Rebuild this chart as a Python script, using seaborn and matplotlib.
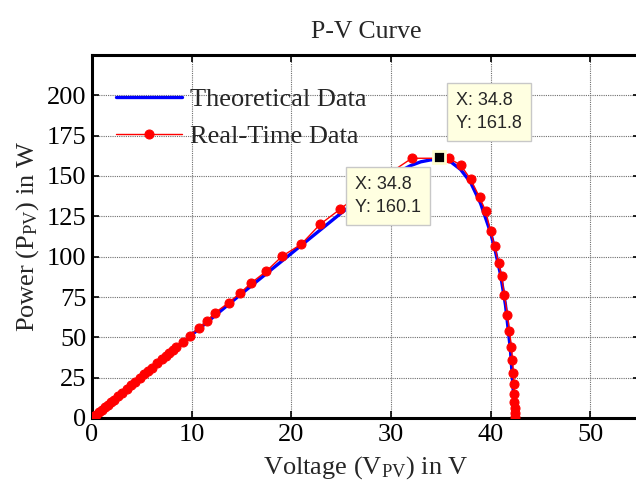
import numpy as np
import pandas as pd
import seaborn as sns
import matplotlib
matplotlib.use("Agg")
import matplotlib.pyplot as plt

# ---- data ----
theo_v = [0, 5, 10, 15, 20, 25, 28, 30, 32, 33, 34, 35, 36, 37, 38, 39, 40, 40.5, 41, 41.5, 42, 42.3, 42.4]
theo_p = [0, 26, 51.5, 77, 102, 127, 141, 150, 156.5, 158.8, 160.0, 160.1, 158.8, 154, 146, 133, 115, 103, 89, 70, 42, 15, 0]

real_v = [0, 0.2, 0.4, 0.7, 1.0, 1.3, 1.6, 1.9, 2.2, 2.6, 3.0, 3.5, 3.9, 4.3, 4.8, 5.2, 5.6,
          6.0, 6.5, 7.0, 7.4, 7.7, 8.1, 8.4, 9.1, 9.8, 10.7, 11.5, 12.3, 13.7, 14.9, 16.0,
          17.5, 19.1, 21.0, 22.9, 24.9, 27.5, 32.1, 35.8, 37.0, 38.0, 38.9, 39.5,
          40.0, 40.4, 40.8, 41.1, 41.4, 41.7, 41.9, 42.1, 42.2, 42.3, 42.35, 42.4, 42.4,
          42.45, 42.45, 42.45]
real_p = [0.5, 1.2, 2.0, 3.6, 5.2, 6.8, 8.3, 9.9, 11.4, 13.5, 15.6, 18.2, 20.3, 22.4, 25.0,
          27.0, 29.1, 31.2, 33.8, 36.4, 38.5, 40.0, 42.1, 43.7, 47.3, 51.0, 55.8, 60.0, 65.0,
          71.4, 77.6, 83.8, 91.0, 100.4, 107.7, 120.1, 129.4, 142, 161.0, 161.0, 156.8,
          148.0, 136.8, 128.5, 116.0, 106.6, 96.3, 87.9, 76, 64, 54, 44, 36, 28, 21, 15, 10,
          6, 3, 0.5]

tip1 = (34.8, 161.8)
tip2 = (34.8, 160.1)

x_ticks = [0, 10, 20, 30, 40, 50]
y_ticks = [0, 25, 50, 75, 100, 125, 150, 175, 200]

df_theo = pd.DataFrame({"V": theo_v, "P": theo_p})
df_real = pd.DataFrame({"V": real_v, "P": real_p})

sns.set_style("ticks")
plt.rcParams["font.family"] = ["Liberation Serif", "DejaVu Serif"]
plt.rcParams["mathtext.fontset"] = "custom"
plt.rcParams["mathtext.rm"] = "Liberation Serif"

fig = plt.figure(figsize=(6.36, 4.91), dpi=100)
ax = fig.add_axes([92 / 636, 73 / 491, 548 / 636, 363 / 491])

sns.lineplot(data=df_theo, x="V", y="P", sort=False, estimator=None, ax=ax,
             color="#0000ff", linewidth=2.4, label="Theoretical Data", zorder=3)
sns.lineplot(data=df_real, x="V", y="P", sort=False, estimator=None, ax=ax,
             color="#ff0000", linewidth=1.0, marker="o", markersize=6.5,
             markeredgecolor="#ff0000", markerfacecolor="#ff0000",
             label="Real-Time Data", zorder=4)

ax.set_xlim(0, 55)
ax.set_ylim(0, 225)
ax.set_xticks(x_ticks)
ax.set_yticks(y_ticks)
ax.tick_params(direction="in", length=5, width=1.2, labelsize=19, top=True, right=True,
               colors="black", pad=4)
for s in ax.spines.values():
    s.set_linewidth(2.2)
    s.set_color("black")
ax.grid(True, linestyle=(0, (1, 1)), color="#6e6e6e", linewidth=0.8)
ax.set_axisbelow(True)

ax.set_xlabel(r"Voltage ($\mathregular{V_{PV}}$) in V", fontsize=19, labelpad=6)
ax.set_ylabel(r"Power ($\mathregular{P_{PV}}$) in W", fontsize=19, labelpad=4)
ax.set_title("P-V Curve", fontsize=18.5, pad=12)

leg = ax.legend(loc="upper left", bbox_to_anchor=(0.0, 0.975), frameon=False,
                fontsize=19, handlelength=2.5, handletextpad=0.3, labelspacing=0.5)

# data tips
ax.plot([tip1[0]], [tip1[1]], marker="s", markersize=9, color="black",
        markeredgecolor="#ffffd0", markeredgewidth=2, zorder=6)
box = dict(boxstyle="square,pad=0.5", fc="#ffffe1", ec="#c8c8c8", lw=1)
ax.annotate(f"X: {tip1[0]}\nY: {tip1[1]}", xy=tip1, xytext=(17, 65),
            textcoords="offset pixels", ha="left", va="top", fontsize=13,
            family=["Liberation Sans", "DejaVu Sans"], bbox=box, zorder=7,
            linespacing=1.45)
ax.annotate(f"X: {tip2[0]}\nY: {tip2[1]}", xy=tip2, xytext=(-84, -16),
            textcoords="offset pixels", ha="left", va="top", fontsize=13,
            family=["Liberation Sans", "DejaVu Sans"], bbox=box, zorder=7,
            linespacing=1.45)

fig.savefig("out.png", dpi=100)
